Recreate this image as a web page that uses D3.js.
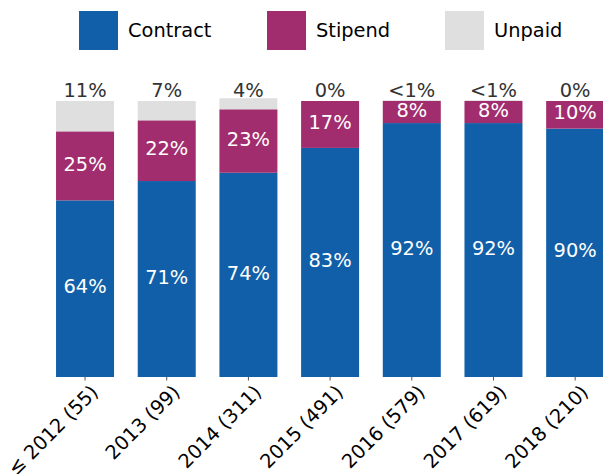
<!DOCTYPE html>
<html>
<head>
<meta charset="utf-8">
<script src="https://cdn.jsdelivr.net/npm/d3@7"></script>
<style>
  html, body { margin: 0; padding: 0; background: #fff; }
  svg { display: block; font-family: "DejaVu Sans", sans-serif; }
</style>
</head>
<body>
<svg id="chart" width="603" height="474"></svg>
<script>
// Share of positions by payment type, per cohort year
const categories = ["≤ 2012 (55)", "2013 (99)", "2014 (311)", "2015 (491)", "2016 (579)", "2017 (619)", "2018 (210)"];
const contract = [64, 71, 74, 83, 92, 92, 90];
const stipend  = [25, 22, 23, 17, 8, 8, 10];
const unpaid   = [11, 7, 4, 0, 0.3, 0.3, 0];
const unpaidLabels = ["11%", "7%", "4%", "0%", "<1%", "<1%", "0%"];

const seriesNames = ["Contract", "Stipend", "Unpaid"];
const colors = { Contract: "#115fa8", Stipend: "#a22d6e", Unpaid: "#dfdfdf" };

const rows = categories.map((c, i) => ({
  cat: c, Contract: contract[i], Stipend: stipend[i], Unpaid: unpaid[i], unpaidLabel: unpaidLabels[i]
}));

const svg = d3.select("#chart");
const fontSize = 19.4;

const x = d3.scaleBand()
  .domain(categories)
  .range([44.2, 616])
  .paddingInner(0.29)
  .paddingOuter(0.145);

const y = d3.scaleLinear().domain([0, 100]).range([377, 101]);

const stacked = d3.stack().keys(seriesNames)(rows);

const g = svg.append("g");

// stacked bars
g.selectAll("g.layer")
  .data(stacked)
  .join("g")
  .attr("class", "layer")
  .attr("fill", d => colors[d.key])
  .selectAll("rect")
  .data(d => d)
  .join("rect")
  .attr("x", d => x(d.data.cat))
  .attr("width", x.bandwidth())
  .attr("y", d => y(d[1]))
  .attr("height", d => y(d[0]) - y(d[1]));

// values inside contract and stipend segments
stacked.slice(0, 2).forEach(layer => {
  g.selectAll(null)
    .data(layer)
    .join("text")
    .attr("x", d => x(d.data.cat) + x.bandwidth() / 2)
    .attr("y", d => (y(d[0]) + y(d[1])) / 2)
    .attr("dy", "0.24em")
    .attr("text-anchor", "middle")
    .attr("fill", "#fff")
    .attr("font-size", fontSize)
    .text(d => d.data[layer.key] + "%");
});

// unpaid share above each bar
g.selectAll(null)
  .data(rows)
  .join("text")
  .attr("x", d => x(d.cat) + x.bandwidth() / 2)
  .attr("y", 97)
  .attr("text-anchor", "middle")
  .attr("fill", "#333")
  .attr("font-size", fontSize)
  .text(d => d.unpaidLabel);

// x axis: ticks only, rotated labels
const xAxis = d3.axisBottom(x).tickSize(3.5).tickPadding(0);
const ax = svg.append("g").attr("transform", "translate(0,377)").call(xAxis);
ax.select(".domain").remove();
ax.selectAll(".tick line").attr("stroke", "#555").attr("stroke-width", 1);
ax.selectAll(".tick text")
  .attr("font-size", fontSize)
  .attr("font-family", "DejaVu Sans, sans-serif")
  .attr("fill", "#000")
  .attr("text-anchor", "end")
  .attr("y", 0)
  .attr("dy", "0.75em")
  .attr("transform", "translate(4,6) rotate(-45)");

// legend
const legend = svg.append("g");
const legendX = [79, 267, 445];
seriesNames.forEach((name, i) => {
  const lg = legend.append("g").attr("transform", `translate(${legendX[i]},11)`);
  lg.append("rect").attr("width", 39).attr("height", 39).attr("fill", colors[name]);
  lg.append("text")
    .attr("x", 49).attr("y", 19.5).attr("dy", "0.36em")
    .attr("font-size", fontSize)
    .attr("fill", "#000")
    .text(name);
});
</script>
</body>
</html>
